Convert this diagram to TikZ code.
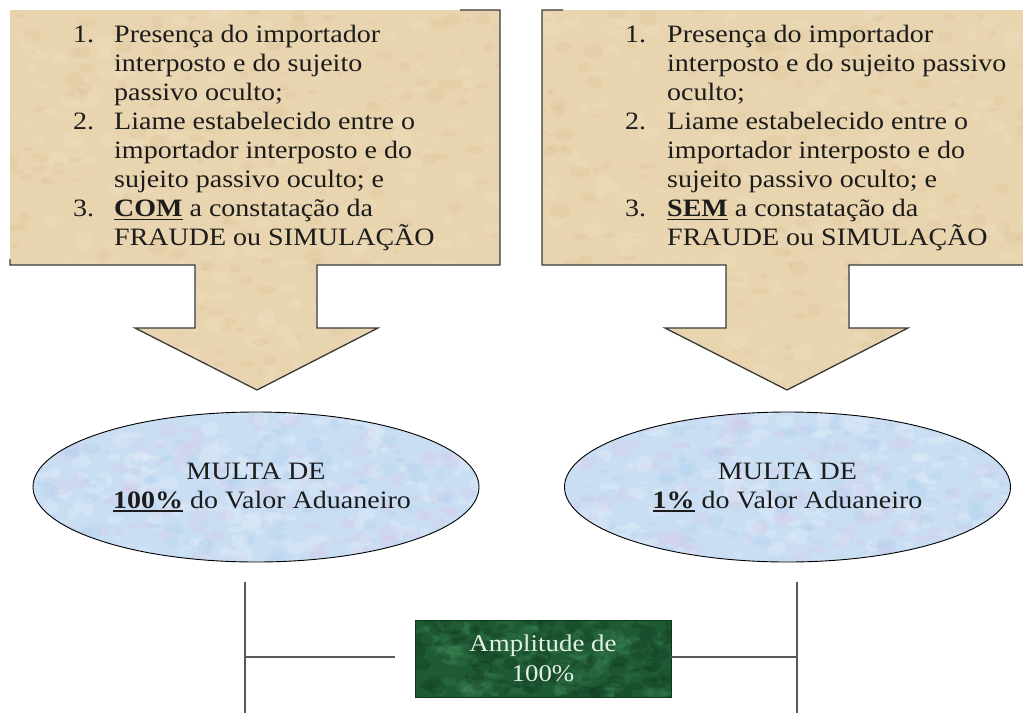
\documentclass[tikz,border=0pt]{standalone}
\usepackage{fontspec}
\setmainfont{Liberation Serif}[FakeStretch=1.12]
\usetikzlibrary{shapes.geometric,calc}
\definecolor{parch}{HTML}{E8D4AE}
\definecolor{parchL}{HTML}{F3E6CB}
\definecolor{parchD}{HTML}{D3B88C}
\definecolor{skyb}{HTML}{C9DEF3}
\definecolor{skyL}{HTML}{E6F0FA}
\definecolor{skyP}{HTML}{DCC8EA}
\definecolor{skyD}{HTML}{A8CBEC}
\definecolor{grn}{HTML}{1E5A33}
\definecolor{grnL}{HTML}{458F5E}
\definecolor{grnD}{HTML}{0E381D}
\definecolor{edge}{HTML}{3A3A3A}
\definecolor{ink}{HTML}{1C1C1C}
\definecolor{lite}{HTML}{E2F0E2}
\newcommand\myul[1]{\setbox0\hbox{#1}\rlap{\rule[-3.5pt]{\wd0}{1.5pt}}\box0{}}
\newcommand\texblobs[5]{%
  \path (path picture bounding box.south west) coordinate (tsw)
        (path picture bounding box.north east) coordinate (tne);
  \foreach \k in {1,...,#1}{%
    \pgfmathsetmacro\bx{rnd}\pgfmathsetmacro\by{rnd}%
    \pgfmathsetmacro\br{#4+rnd*#5}\pgfmathsetmacro\bq{0.3+0.7*rnd}%
    \fill[#2,opacity=#3] let \p1=(tsw),\p2=(tne) in
      ({\x1+\bx*(\x2-\x1)},{\y1+\by*(\y2-\y1)}) ellipse [x radius=\br pt, y radius=\bq*\br pt];
  }}
\tikzset{
  boxtext/.style={anchor=north west, inner sep=0pt, align=left, text=ink,
    font=\fontsize{25}{29}\selectfont},
  parchfill/.style={fill=parch, path picture={%
    \texblobs{260}{parchL}{0.22}{2}{9}\texblobs{220}{parchD}{0.16}{2}{8}}},
  shadowedge/.style={draw=edge, line width=1.3pt, line join=miter},
  ell/.style={ellipse, draw=black, line width=0.9pt, minimum width=446pt, minimum height=150pt,
    inner sep=0pt, align=center, text=ink, font=\fontsize{25}{29}\selectfont,
    fill=skyb, path picture={%
    \texblobs{200}{skyL}{0.28}{2}{9}\texblobs{160}{skyP}{0.25}{2}{9}\texblobs{140}{skyD}{0.2}{2}{8}}},
  ampbox/.style={rectangle, draw=grnD, line width=0.9pt, minimum width=256pt, minimum height=77pt,
    inner sep=0pt, align=center, text=lite, font=\fontsize{24}{30}\selectfont,
    fill=grn, path picture={%
    \texblobs{140}{grnL}{0.22}{2}{9}\texblobs{120}{grnD}{0.3}{2}{9}}},
  conn/.style={draw=black!65, line width=1.3pt}
}
\begin{document}
\begin{tikzpicture}[x=1pt,y=-1pt]
\clip (0,0) rectangle (1023,713);
\fill[white] (0,0) rectangle (1023,713);
\pgfmathsetseed{7}
% left callout
\path[parchfill] (10,10) -- (500,10) -- (500,265) -- (317,265) -- (317,328) -- (378,328)
  -- (257,390) -- (135,328) -- (195,328) -- (195,265) -- (10,265) -- cycle;
\draw[shadowedge] (460,10) -- (500,10) -- (500,265) -- (317,265) -- (317,328) -- (378,328)
  -- (257,390) -- (135,328) -- (195,328) -- (195,265) -- (10,265) -- (10,259);
% right callout
\path[parchfill] (542,10) -- (1032,10) -- (1032,265) -- (849,265) -- (849,328) -- (908,328)
  -- (787,390) -- (665,328) -- (726,328) -- (726,265) -- (542,265) -- cycle;
\draw[shadowedge] (563,10) -- (542,10) -- (542,265) -- (726,265) -- (726,328) -- (665,328)
  -- (787,390) -- (908,328) -- (849,328) -- (849,265) -- (1032,265);
% texts
\node[boxtext] (t1) at (73,25) {%
  \makebox[41pt][l]{1.}Presença do importador\\
  \hspace*{41pt}interposto e do sujeito\\
  \hspace*{41pt}passivo oculto;\\
  \makebox[41pt][l]{2.}Liame estabelecido entre o\\
  \hspace*{41pt}importador interposto e do\\
  \hspace*{41pt}sujeito passivo oculto; e\\
  \makebox[41pt][l]{3.}\myul{\textbf{COM}} a constatação da\\
  \hspace*{41pt}FRAUDE ou SIMULAÇÃO};
\node[boxtext] (t2) at (625,25) {%
  \makebox[42pt][l]{1.}Presença do importador\\
  \hspace*{42pt}interposto e do sujeito passivo\\
  \hspace*{42pt}oculto;\\
  \makebox[42pt][l]{2.}Liame estabelecido entre o\\
  \hspace*{42pt}importador interposto e do\\
  \hspace*{42pt}sujeito passivo oculto; e\\
  \makebox[42pt][l]{3.}\myul{\textbf{SEM}} a constatação da\\
  \hspace*{42pt}FRAUDE ou SIMULAÇÃO};
% ellipses
\node[ell] (e1) at (256,487) {MULTA DE\\\hspace*{12pt}\myul{\textbf{100\%}} do Valor Aduaneiro};
\node[ell] (e2) at (787.5,487) {MULTA DE\\\myul{\textbf{1\%}} do Valor Aduaneiro};
% amplitude box
\node[ampbox] (amp) at (543,658.5) {Amplitude de\\100\%};
% lines
\coordinate (v1t) at (245,582);
\coordinate (v1b) at (245,713);
\coordinate (h1) at (245,657);
\coordinate (h1e) at (395,657);
\coordinate (v2t) at (797,582);
\coordinate (v2b) at (797,713);
\coordinate (h2) at (797,657);
\draw[conn] (v1t) -- (v1b);
\draw[conn] (v2t) -- (v2b);
\draw[conn] (h1) -- (h1e);
\draw[conn] (amp.east |- h2) -- (h2);
\end{tikzpicture}
\end{document}
